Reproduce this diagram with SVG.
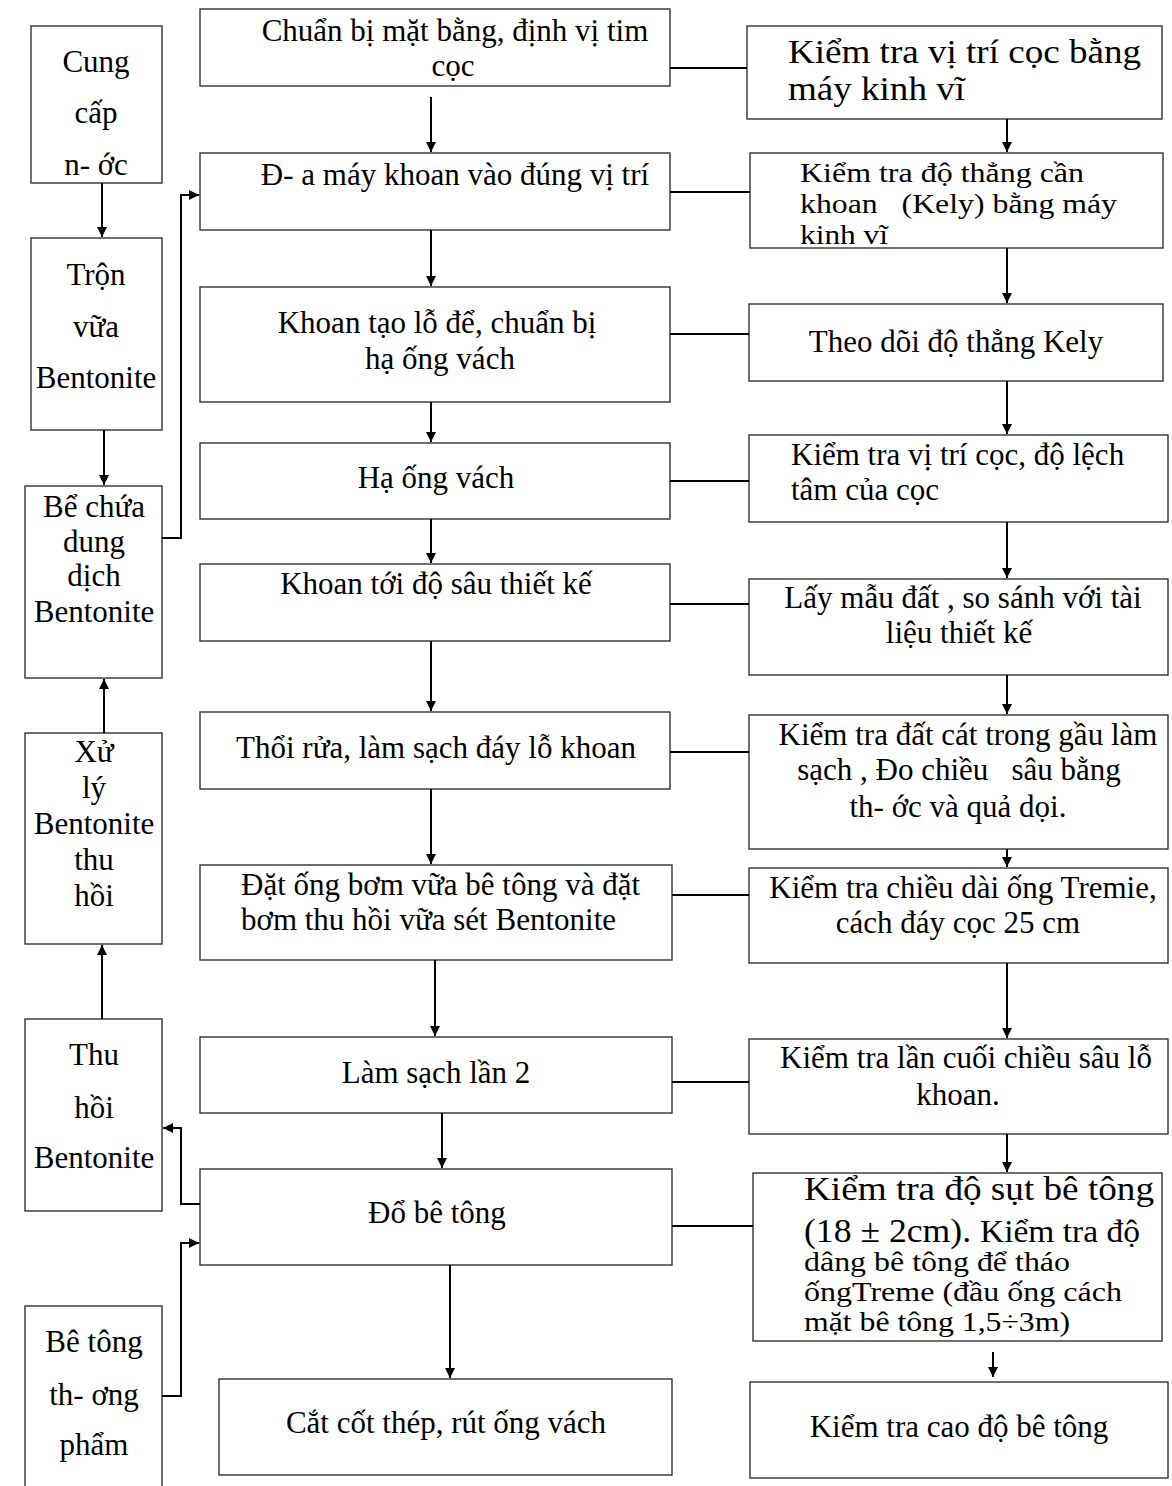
<svg xmlns="http://www.w3.org/2000/svg" width="1172" height="1486" viewBox="0 0 1172 1486">
<style>
.box{fill:#fff;stroke:#333;stroke-width:1.4}
.t{font-family:"Liberation Serif","Times New Roman",serif;font-size:31px;fill:#000;white-space:pre}
.c{text-anchor:middle}
.s{font-size:28px}
.con{fill:none;stroke:#000;stroke-width:2.2}
.arr{fill:none;stroke:#000;stroke-width:2;marker-end:url(#ah)}
</style>
<defs>
<marker id="ah" markerUnits="userSpaceOnUse" markerWidth="10" markerHeight="10" refX="10" refY="5" orient="auto">
<path d="M0,0 L10,5 L0,10 z" fill="#000"/>
</marker>
</defs>
<rect width="1172" height="1486" fill="#fff"/>

<g id="left-column">
<g id="L1"><rect class="box" x="31" y="26" width="131" height="157"/>
<text class="t c" x="96" y="72">Cung</text><text class="t c" x="96" y="123">cấp</text><text class="t c" x="96" y="175">n- ớc</text></g>
<g id="L2"><rect class="box" x="31" y="238" width="131" height="192"/>
<text class="t c" x="96" y="285">Trộn</text><text class="t c" x="96" y="337">vữa</text><text class="t c" x="96" y="388">Bentonite</text></g>
<g id="L3"><rect class="box" x="25" y="486" width="137" height="192"/>
<text class="t c" x="94" y="517">Bể chứa</text><text class="t c" x="94" y="552">dung</text><text class="t c" x="94" y="586">dịch</text><text class="t c" x="94" y="622">Bentonite</text></g>
<g id="L4"><rect class="box" x="25" y="733" width="137" height="211"/>
<text class="t c" x="94" y="762">Xử</text><text class="t c" x="94" y="798">lý</text><text class="t c" x="94" y="834">Bentonite</text><text class="t c" x="94" y="870">thu</text><text class="t c" x="94" y="906">hồi</text></g>
<g id="L5"><rect class="box" x="25" y="1019" width="137" height="192"/>
<text class="t c" x="94" y="1065">Thu</text><text class="t c" x="94" y="1118">hồi</text><text class="t c" x="94" y="1168">Bentonite</text></g>
<g id="L6"><rect class="box" x="25" y="1306" width="137" height="200"/>
<text class="t c" x="94" y="1352">Bê tông</text><text class="t c" x="94" y="1405">th- ơng</text><text class="t c" x="94" y="1455">phẩm</text></g>
</g>

<g id="middle-column">
<g id="M1"><rect class="box" x="200" y="9" width="470" height="77"/>
<text class="t c" x="455" y="41">Chuẩn bị mặt bằng, định vị tim</text><text class="t c" x="453" y="76">cọc</text></g>
<g id="M2"><rect class="box" x="200" y="153" width="470" height="77"/>
<text class="t c" x="455" y="185">Đ- a máy khoan vào đúng vị trí</text></g>
<g id="M3"><rect class="box" x="200" y="287" width="470" height="115"/>
<text class="t c" x="437" y="333">Khoan tạo lỗ để, chuẩn bị</text><text class="t c" x="440" y="369">hạ ống vách</text></g>
<g id="M4"><rect class="box" x="200" y="443" width="470" height="76"/>
<text class="t c" x="436" y="488">Hạ ống vách</text></g>
<g id="M5"><rect class="box" x="200" y="564" width="470" height="77"/>
<text class="t c" x="436" y="594">Khoan tới độ sâu thiết kế</text></g>
<g id="M6"><rect class="box" x="200" y="712" width="470" height="77"/>
<text class="t c" x="436" y="758">Thổi rửa, làm sạch đáy lỗ khoan</text></g>
<g id="M7"><rect class="box" x="200" y="865" width="472" height="95"/>
<text class="t" x="241" y="895">Đặt ống bơm vữa bê tông và đặt</text><text class="t" x="241" y="930">bơm thu hồi vữa sét Bentonite</text></g>
<g id="M8"><rect class="box" x="200" y="1037" width="472" height="76"/>
<text class="t c" x="436" y="1083">Làm sạch lần 2</text></g>
<g id="M9"><rect class="box" x="200" y="1169" width="472" height="96"/>
<text class="t c" x="437" y="1223">Đổ bê tông</text></g>
<g id="M10"><rect class="box" x="219" y="1379" width="453" height="96"/>
<text class="t c" x="446" y="1433">Cắt cốt thép, rút ống vách</text></g>
</g>

<g id="right-column">
<g id="R1"><rect class="box" x="747" y="26" width="415" height="93"/>
<text class="t" x="788" y="63" style="font-size:33px" textLength="353" lengthAdjust="spacingAndGlyphs">Kiểm tra vị trí cọc bằng</text>
<text class="t" x="788" y="100" style="font-size:33px" textLength="177" lengthAdjust="spacingAndGlyphs">máy kinh vĩ</text></g>
<g id="R2"><rect class="box" x="750" y="153" width="413" height="95"/>
<text class="t s" x="800" y="182" textLength="284" lengthAdjust="spacingAndGlyphs">Kiểm tra độ thẳng cần</text>
<text class="t s" x="800" y="213" textLength="317" lengthAdjust="spacingAndGlyphs">khoan   (Kely) bằng máy</text>
<text class="t s" x="800" y="244" textLength="88" lengthAdjust="spacingAndGlyphs">kinh vĩ</text></g>
<g id="R3"><rect class="box" x="749" y="304" width="414" height="77"/>
<text class="t c" x="956" y="352">Theo dõi độ thẳng Kely</text></g>
<g id="R4"><rect class="box" x="749" y="435" width="419" height="87"/>
<text class="t" x="791" y="465">Kiểm tra vị trí cọc, độ lệch</text><text class="t" x="791" y="500">tâm của cọc</text></g>
<g id="R5"><rect class="box" x="749" y="579" width="419" height="96"/>
<text class="t c" x="963" y="608">Lấy mẫu đất , so sánh với tài</text><text class="t c" x="959" y="643">liệu thiết kế</text></g>
<g id="R6"><rect class="box" x="749" y="715" width="419" height="134"/>
<text class="t c" x="968" y="745">Kiểm tra đất cát trong gầu làm</text><text class="t c" x="959" y="780">sạch , Đo chiều   sâu bằng</text><text class="t c" x="958" y="817">th- ớc và quả dọi.</text></g>
<g id="R7"><rect class="box" x="749" y="868" width="419" height="95"/>
<text class="t c" x="963" y="898">Kiểm tra chiều dài ống Tremie,</text><text class="t c" x="958" y="933">cách đáy cọc 25 cm</text></g>
<g id="R8"><rect class="box" x="749" y="1039" width="419" height="95"/>
<text class="t c" x="966" y="1068">Kiểm tra lần cuối chiều sâu lỗ</text><text class="t c" x="958" y="1105">khoan.</text></g>
<g id="R9"><rect class="box" x="753" y="1173" width="409" height="168"/>
<text class="t" x="804" y="1200" style="font-size:33px" textLength="350" lengthAdjust="spacingAndGlyphs">Kiểm tra độ sụt bê tông</text>
<text class="t" x="804" y="1242" textLength="336" lengthAdjust="spacingAndGlyphs"><tspan style="font-size:33px">(18 ± 2cm). </tspan><tspan>Kiểm tra độ</tspan></text>
<text class="t s" x="804" y="1271" textLength="266" lengthAdjust="spacingAndGlyphs">dâng bê tông để tháo</text>
<text class="t s" x="804" y="1301" textLength="318" lengthAdjust="spacingAndGlyphs">ốngTreme (đầu ống cách</text>
<text class="t s" x="804" y="1331" textLength="266" lengthAdjust="spacingAndGlyphs">mặt bê tông 1,5÷3m)</text></g>
<g id="R10"><rect class="box" x="750" y="1382" width="418" height="96"/>
<text class="t c" x="959" y="1437">Kiểm tra cao độ bê tông</text></g>
</g>

<g id="connectors">
<path class="arr" d="M102,183 V237"/>
<path class="arr" d="M104,430 V485"/>
<path class="arr" d="M104,733 V679"/>
<path class="arr" d="M102,1019 V945"/>
<path class="arr" d="M162,538 H181 V195 H199"/>
<path class="arr" d="M200,1204 H181 V1128 H163"/>
<path class="arr" d="M162,1396 H181 V1243 H199"/>

<path class="arr" d="M431,97 V152"/>
<path class="arr" d="M431,230 V286"/>
<path class="arr" d="M431,402 V442"/>
<path class="arr" d="M431,519 V563"/>
<path class="arr" d="M431,641 V711"/>
<path class="arr" d="M431,789 V864"/>
<path class="arr" d="M435,960 V1036"/>
<path class="arr" d="M442,1113 V1168"/>
<path class="arr" d="M450,1265 V1378"/>

<path class="arr" d="M1007,119 V152"/>
<path class="arr" d="M1007,248 V303"/>
<path class="arr" d="M1007,381 V434"/>
<path class="arr" d="M1007,522 V578"/>
<path class="arr" d="M1007,675 V714"/>
<path class="arr" d="M1007,849 V867"/>
<path class="arr" d="M1007,963 V1038"/>
<path class="arr" d="M1007,1134 V1172"/>
<path class="arr" d="M993,1352 V1377"/>

<path class="con" d="M670,68 H747"/>
<path class="con" d="M670,192 H750"/>
<path class="con" d="M670,334 H749"/>
<path class="con" d="M670,481 H749"/>
<path class="con" d="M670,604 H749"/>
<path class="con" d="M670,752 H749"/>
<path class="con" d="M672,895 H749"/>
<path class="con" d="M672,1082 H749"/>
<path class="con" d="M672,1226 H753"/>
</g>
</svg>
